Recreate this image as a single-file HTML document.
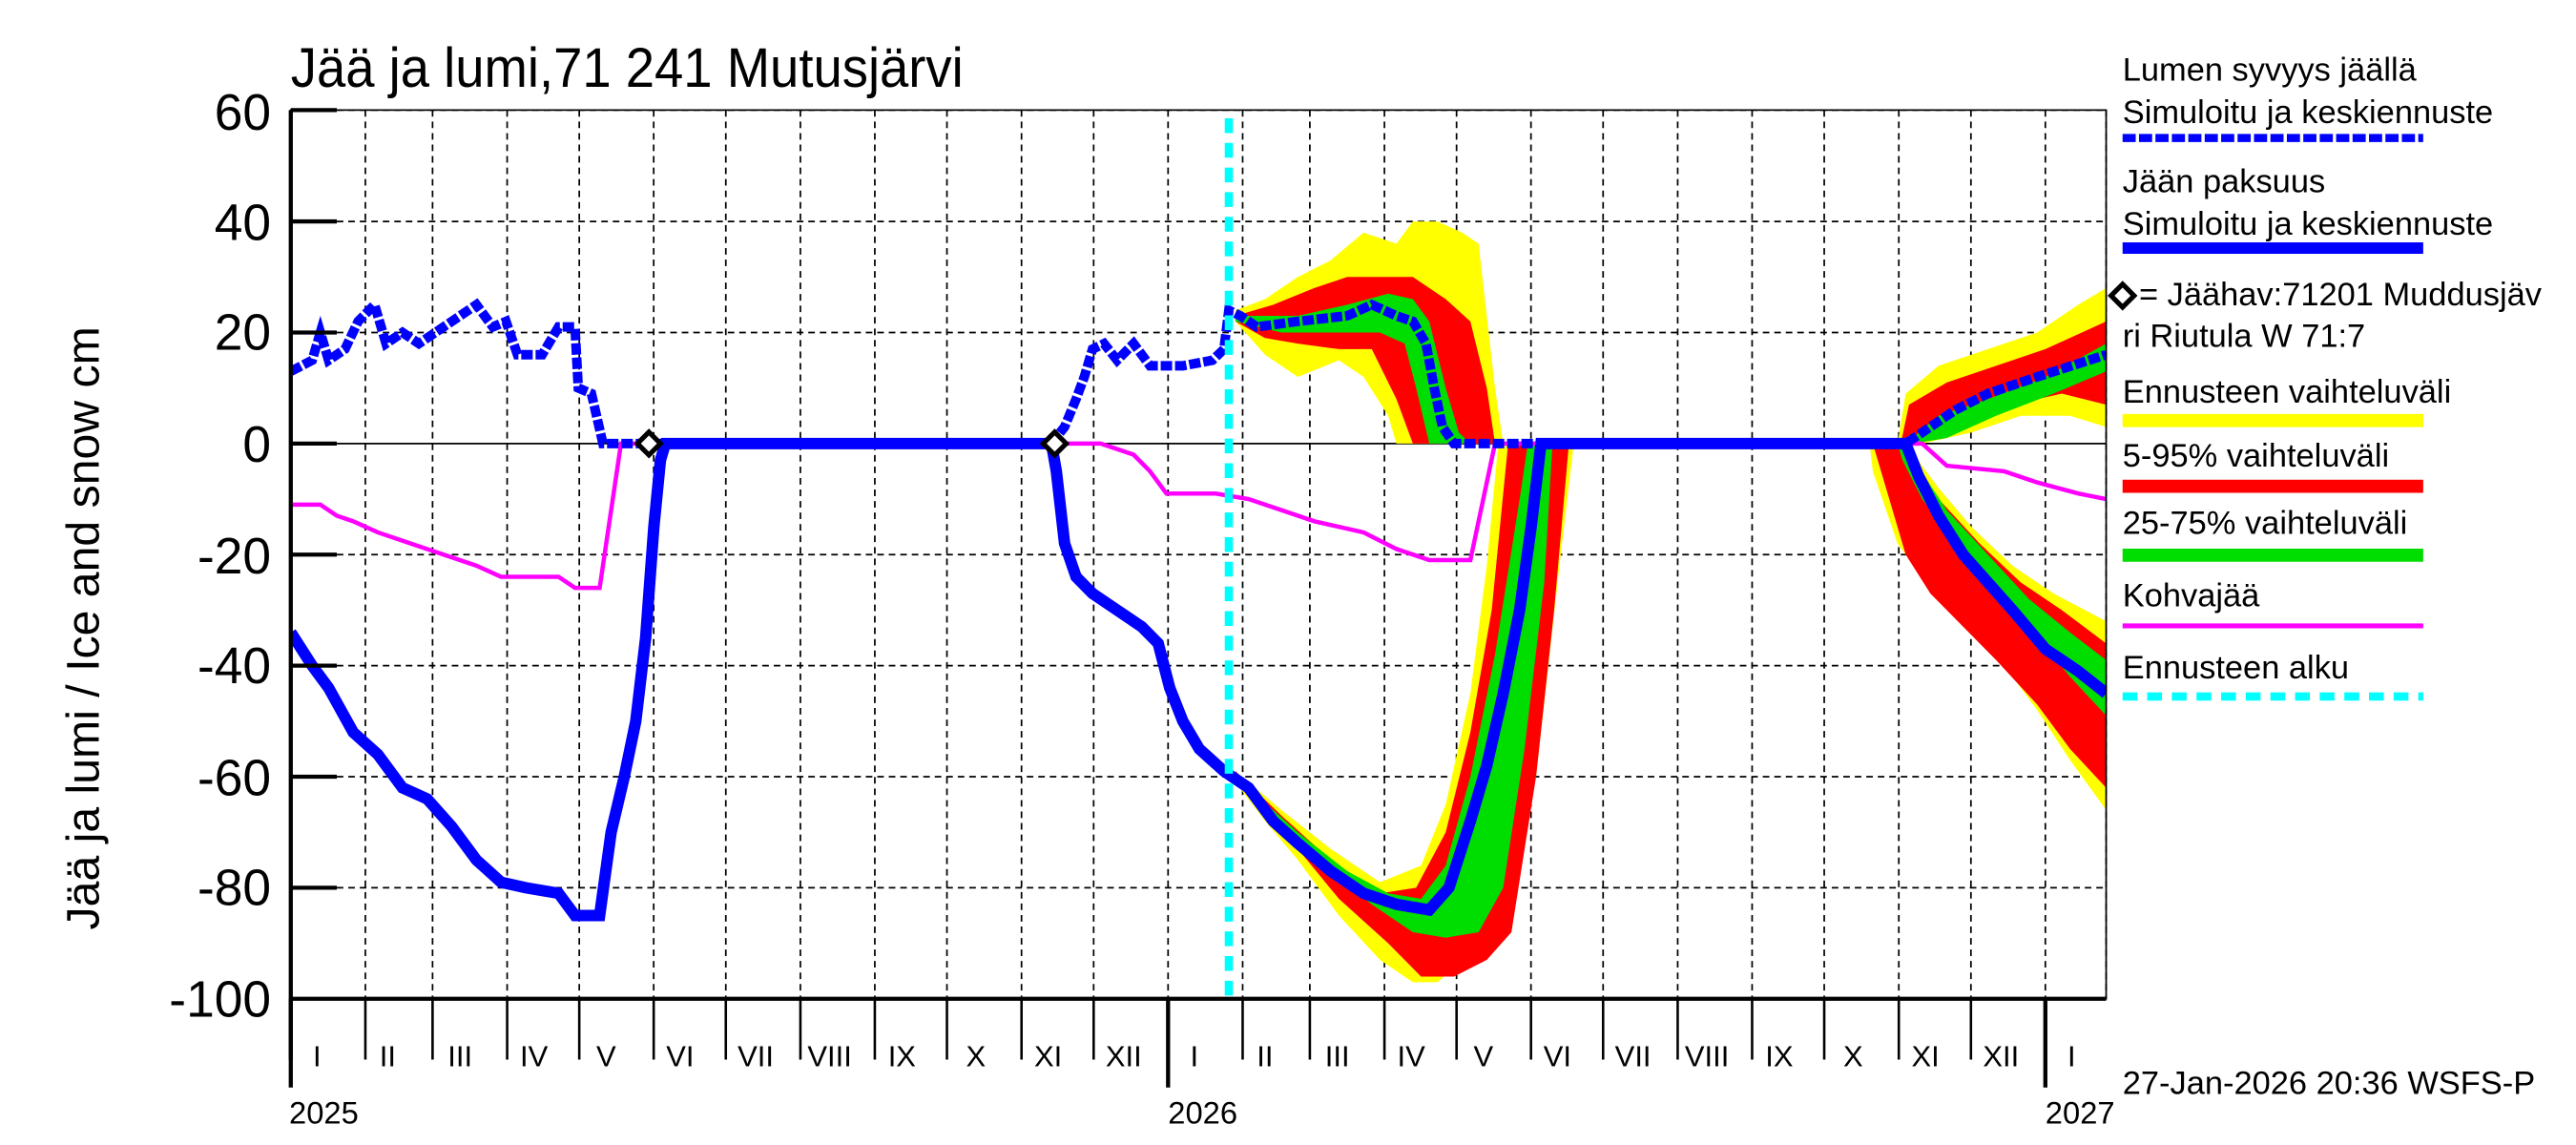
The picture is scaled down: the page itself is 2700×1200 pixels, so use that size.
<!DOCTYPE html>
<html><head><meta charset="utf-8"><style>
html,body{margin:0;padding:0;background:#fff}
svg{display:block}
text{font-family:"Liberation Sans",sans-serif;fill:#000}
</style></head><body>
<svg width="2700" height="1200" viewBox="0 0 1568 697" preserveAspectRatio="none" xmlns="http://www.w3.org/2000/svg">
<rect width="1568" height="697" fill="#fff"/>
<defs><clipPath id="c"><rect x="177" y="67" width="1105" height="541"/></clipPath></defs>
<g stroke="#000" stroke-width="1" stroke-dasharray="4,3">
<line x1="177" y1="134.8" x2="1282" y2="134.8"/><line x1="177" y1="202.4" x2="1282" y2="202.4"/>
<line x1="177" y1="337.6" x2="1282" y2="337.6"/><line x1="177" y1="405.2" x2="1282" y2="405.2"/>
<line x1="177" y1="472.8" x2="1282" y2="472.8"/><line x1="177" y1="540.4" x2="1282" y2="540.4"/>
<line x1="177" y1="67" x2="1282" y2="67"/>
<path d="M222.4 67V608M263.3 67V608M308.7 67V608M352.6 67V608M397.9 67V608M441.8 67V608M487.2 67V608M532.5 67V608M576.4 67V608M621.8 67V608M665.7 67V608M711 67V608M756.4 67V608M797.3 67V608M842.7 67V608M886.6 67V608M931.9 67V608M975.8 67V608M1021.2 67V608M1066.5 67V608M1110.4 67V608M1155.8 67V608M1199.7 67V608M1245 67V608M1282 67V608"/>
</g>
<line x1="177" y1="270" x2="1282" y2="270" stroke="#000" stroke-width="1"/>
<g clip-path="url(#c)">
<g transform="matrix(1 0 0 -3.38 0 270)">
<path fill="#ff0" d="M752 24 L770 26 L790 30 L810 33 L830 38 L850 36 L860 40 L875 40 L890 38 L900 36 L910 10 L915 0 L850 0 L845 5 L830 12 L815 15 L790 12 L770 16 L752 22Z"/>
<path fill="#f00" d="M752 23 L775 25 L800 28 L820 30 L840 30 L860 30 L880 26 L895 22 L905 10 L910 0 L860 0 L850 8 L835 17 L815 17 L790 18 L770 19 L752 22Z"/>
<path fill="#0d0" d="M752 23 L790 23 L820 25 L845 27 L860 26 L870 22 L880 10 L888 2 L895 0 L870 0 L862 10 L855 18 L840 20 L810 20 L780 20 L752 22Z"/>
<path fill="#ff0" d="M1155 0 L1160 9 L1180 14 L1210 17 L1240 20 L1265 25 L1282 28 L1282 3 L1260 5 L1230 5 L1200 2 L1170 0Z"/>
<path fill="#f00" d="M1157 0 L1162 7 L1185 11 L1215 14 L1245 17 L1282 22 L1282 7 L1255 9 L1225 7 L1195 5 L1170 0Z"/>
<path fill="#0d0" d="M1160 0 L1180 5 L1210 8 L1245 12 L1282 18 L1282 13 L1250 9 L1215 5 L1185 1 L1165 0Z"/>
<path fill="#ff0" d="M752 -59 L780 -66 L810 -73 L840 -79 L865 -76 L880 -65 L895 -45 L905 -22 L912 0 L958 0 L950 -20 L935 -60 L915 -85 L895 -92 L875 -97 L860 -97 L840 -93 L815 -85 L790 -75 L770 -68 L752 -61Z"/>
<path fill="#f00" d="M752 -59 L780 -67 L810 -75 L840 -81 L862 -80 L880 -70 L895 -52 L908 -30 L918 0 L955 0 L946 -30 L935 -60 L920 -88 L905 -93 L885 -96 L865 -96 L845 -90 L815 -82 L790 -73 L770 -66 L752 -61Z"/>
<path fill="#0d0" d="M760 -62 L790 -70 L820 -77 L845 -81 L865 -82 L880 -76 L895 -60 L910 -38 L925 -10 L930 0 L945 0 L940 -25 L928 -55 L915 -80 L900 -88 L880 -89 L860 -88 L835 -83 L805 -76 L775 -67 L760 -63Z"/>
<path fill="#ff0" d="M1138 0 L1160 0 L1180 -8 L1200 -15 L1225 -22 L1250 -27 L1282 -32 L1282 -66 L1260 -57 L1240 -48 L1215 -38 L1195 -33 L1175 -26 L1155 -18 L1140 -5Z"/>
<path fill="#f00" d="M1140 0 L1160 0 L1180 -10 L1205 -18 L1230 -25 L1255 -30 L1282 -36 L1282 -62 L1260 -55 L1240 -47 L1215 -39 L1195 -33 L1175 -27 L1160 -20 L1145 -5Z"/>
<path fill="#0d0" d="M1155 0 L1165 -3 L1185 -12 L1210 -20 L1235 -28 L1260 -34 L1282 -39 L1282 -49 L1260 -42 L1235 -33 L1210 -25 L1190 -18 L1170 -10 L1158 -3Z"/>
<path fill="none" stroke="#f0f" stroke-width="4.5" vector-effect="non-scaling-stroke" d="M177 -11 L195 -11 L205 -13 L215 -14 L230 -16 L250 -18 L270 -20 L290 -22 L305 -24 L340 -24 L350 -26 L365 -26 L378 0 L670 0 L690 -2 L700 -5 L710 -9 L740 -9 L760 -10 L780 -12 L800 -14 L830 -16 L850 -19 L870 -21 L895 -21 L910 0 L1170 0 L1185 -4 L1220 -5 L1240 -7 L1265 -9 L1282 -10"/>
<path fill="none" stroke="#00f" stroke-width="10" stroke-dasharray="12,3" vector-effect="non-scaling-stroke" d="M177 13 L190 15 L195 20 L200 15 L210 17 L218 22 L228 25 L235 18 L245 20 L255 18 L270 21 L290 25 L300 21 L308 22 L315 16 L330 16 L340 21 L350 21 L352 10 L360 9 L367 0 L640 0 L648 3 L655 8 L660 12 L665 17 L672 18 L680 15 L690 18 L700 14 L720 14 L738 15 L745 17 L748 24 L755 23 L765 21 L790 22 L820 23 L835 25 L850 23 L860 22 L868 18 L873 10 L878 3 L885 0 L1160 0 L1175 3 L1190 6 L1210 9 L1240 12 L1282 16"/>
<path fill="none" stroke="#00f" stroke-width="12" vector-effect="non-scaling-stroke" d="M177 -34 L190 -40 L200 -44 L215 -52 L230 -56 L245 -62 L260 -64 L275 -69 L290 -75 L305 -79 L320 -80 L340 -81 L350 -85 L365 -85 L372 -70 L380 -60 L387 -50 L393 -35 L398 -15 L402 -3 L405 0 L640 0 L643 -5 L648 -18 L655 -24 L665 -27 L680 -30 L695 -33 L705 -36 L712 -44 L720 -50 L730 -55 L745 -59 L760 -62 L775 -68 L790 -72 L810 -77 L830 -81 L850 -83 L870 -84 L882 -80 L895 -68 L905 -58 L915 -45 L925 -30 L932 -15 L938 0 L1160 0 L1168 -6 L1180 -13 L1195 -20 L1210 -25 L1225 -30 L1245 -37 L1265 -41 L1282 -45"/>
</g>
</g>
<line x1="748" y1="72" x2="748" y2="608" stroke="#0ff" stroke-width="5" stroke-dasharray="9,6"/>
<path d="M395 263 L402 270 L395 277 L388 270Z" fill="#fff" stroke="#000" stroke-width="3"/>
<path d="M642 263 L649 270 L642 277 L635 270Z" fill="#fff" stroke="#000" stroke-width="3"/>
<rect x="177" y="67" width="1105" height="541" fill="none" stroke="#000" stroke-width="1"/>
<line x1="177" y1="67" x2="177" y2="645" stroke="#000" stroke-width="2.5"/>
<line x1="177" y1="608" x2="1282" y2="608" stroke="#000" stroke-width="2.5"/>
<g stroke="#000" stroke-width="2.5">
<line x1="177" y1="67" x2="205" y2="67"/><line x1="177" y1="134.8" x2="205" y2="134.8"/><line x1="177" y1="202.4" x2="205" y2="202.4"/><line x1="177" y1="270" x2="205" y2="270"/><line x1="177" y1="337.6" x2="205" y2="337.6"/><line x1="177" y1="405.2" x2="205" y2="405.2"/><line x1="177" y1="472.8" x2="205" y2="472.8"/><line x1="177" y1="540.4" x2="205" y2="540.4"/>
</g>
<g stroke="#000" stroke-width="1.5">
<path d="M222.4 608V645M263.3 608V645M308.7 608V645M352.6 608V645M397.9 608V645M441.8 608V645M487.2 608V645M532.5 608V645M576.4 608V645M621.8 608V645M665.7 608V645M756.4 608V645M797.3 608V645M842.7 608V645M886.6 608V645M931.9 608V645M975.8 608V645M1021.2 608V645M1066.5 608V645M1110.4 608V645M1155.8 608V645M1199.7 608V645"/>
</g>
<g stroke="#000" stroke-width="2.5"><path d="M177 608V662M711 608V662M1245 608V662"/></g>
<g font-size="31" text-anchor="end">
<text x="165" y="79">60</text><text x="165" y="146">40</text><text x="165" y="213">20</text><text x="165" y="281">0</text><text x="165" y="349">-20</text><text x="165" y="416">-40</text><text x="165" y="484">-60</text><text x="165" y="551">-80</text><text x="165" y="619">-100</text>
</g>
<g font-size="18" text-anchor="middle">
<text x="193" y="649">I</text><text x="236" y="649">II</text><text x="280" y="649">III</text><text x="325" y="649">IV</text><text x="369" y="649">V</text><text x="414" y="649">VI</text><text x="460" y="649">VII</text><text x="505" y="649">VIII</text><text x="549" y="649">IX</text><text x="594" y="649">X</text><text x="638" y="649">XI</text><text x="684" y="649">XII</text>
<text x="727" y="649">I</text><text x="770" y="649">II</text><text x="814" y="649">III</text><text x="859" y="649">IV</text><text x="903" y="649">V</text><text x="948" y="649">VI</text><text x="994" y="649">VII</text><text x="1039" y="649">VIII</text><text x="1083" y="649">IX</text><text x="1128" y="649">X</text><text x="1172" y="649">XI</text><text x="1218" y="649">XII</text><text x="1261" y="649">I</text>
</g>
<g font-size="19"><text x="176" y="684">2025</text><text x="711" y="684">2026</text><text x="1245" y="684">2027</text></g>
<text x="1292" y="666" font-size="20">27-Jan-2026 20:36 WSFS-P</text>
<text x="177" y="53" font-size="34" transform="translate(177 0) scale(0.93 1) translate(-177 0)">Jää ja lumi,71 241 Mutusjärvi</text>
<text font-size="28" transform="translate(60 566) rotate(-90)">Jää ja lumi / Ice and snow     cm</text>
<g font-size="20">
<text x="1292" y="49">Lumen syvyys jäällä</text>
<text x="1292" y="75">Simuloitu ja keskiennuste</text>
<line x1="1292" y1="84" x2="1475" y2="84" stroke="#00f" stroke-width="5" stroke-dasharray="8,2"/>
<text x="1292" y="117">Jään paksuus</text>
<text x="1292" y="143">Simuloitu ja keskiennuste</text>
<line x1="1292" y1="151" x2="1475" y2="151" stroke="#00f" stroke-width="7"/>
<path d="M1292 173 L1299 180 L1292 187 L1285 180Z" fill="#fff" stroke="#000" stroke-width="3"/>
<text x="1302" y="186">= Jäähav:71201 Muddusjäv</text>
<text x="1292" y="211">ri Riutula W 71:7</text>
<text x="1292" y="245">Ennusteen vaihteluväli</text>
<line x1="1292" y1="256" x2="1475" y2="256" stroke="#ff0" stroke-width="8"/>
<text x="1292" y="284">5-95% vaihteluväli</text>
<line x1="1292" y1="296" x2="1475" y2="296" stroke="#f00" stroke-width="8"/>
<text x="1292" y="325">25-75% vaihteluväli</text>
<line x1="1292" y1="338" x2="1475" y2="338" stroke="#0d0" stroke-width="8"/>
<text x="1292" y="369">Kohvajää</text>
<line x1="1292" y1="381" x2="1475" y2="381" stroke="#f0f" stroke-width="3"/>
<text x="1292" y="413">Ennusteen alku</text>
<line x1="1292" y1="424" x2="1475" y2="424" stroke="#0ff" stroke-width="5" stroke-dasharray="9,6"/>
</g>
</svg>
</body></html>
